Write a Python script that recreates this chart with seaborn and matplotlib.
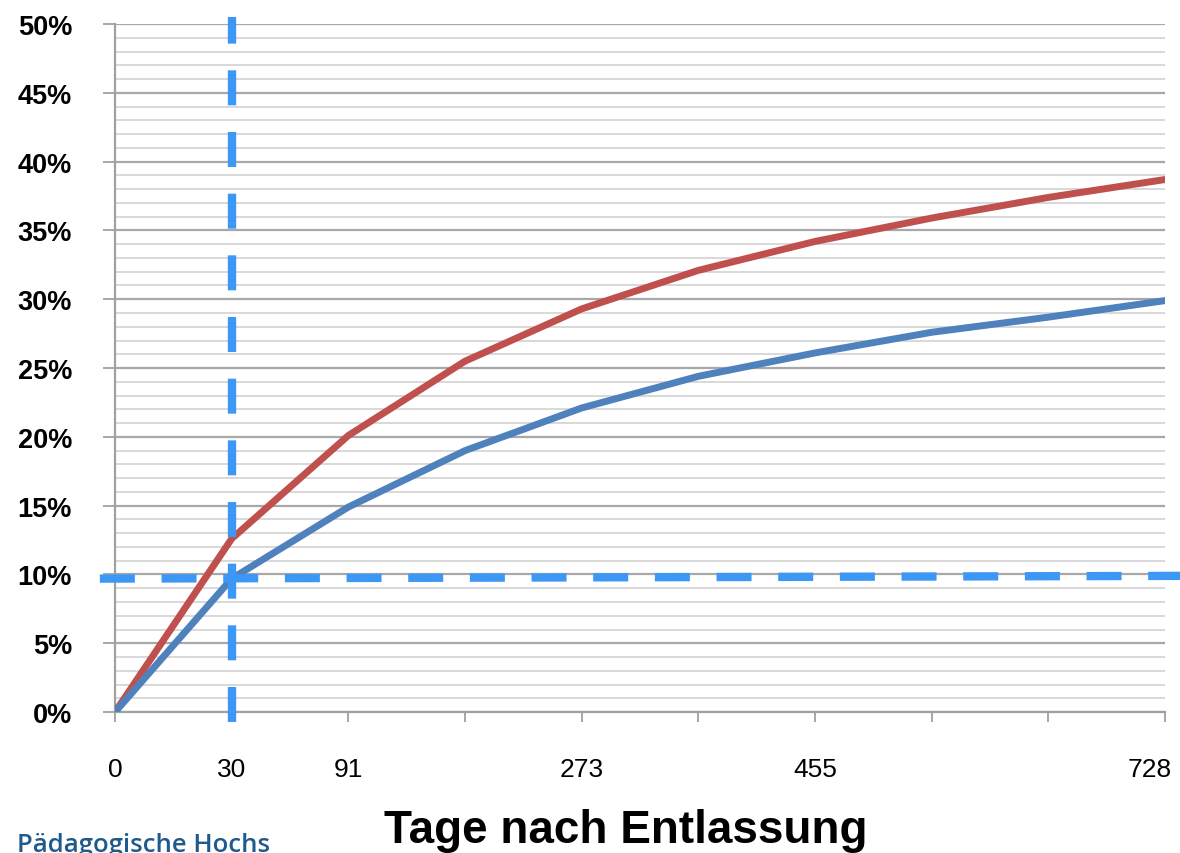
import numpy as np
import pandas as pd
import matplotlib
matplotlib.use('Agg')
import matplotlib.pyplot as plt
import matplotlib.transforms as mtransforms
import seaborn as sns

# Daten (Rückfallquote in % nach Tagen)
tage = ['0', '30', '91', '182', '273', '364', '455', '546', '637', '728']
tage_labels = ['0', '30', '91', '', '273', '', '455', '', '', '728']
rot = [0, 12.6, 20.1, 25.5, 29.3, 32.1, 34.2, 35.9, 37.4, 38.7]
blau = [0, 9.7, 14.9, 19.0, 22.1, 24.4, 26.1, 27.6, 28.7, 29.9]

# Hilfslinien
marker_tag = 30
marker_quote = [9.7, 9.9]

sns.set_style('white')
plt.rcParams['font.family'] = ['Liberation Sans', 'DejaVu Sans']
plt.rcParams['text.color'] = 'black'

df = pd.DataFrame({
    'pos': list(range(len(tage))) * 2,
    'wert': rot + blau,
    'gruppe': ['rot'] * len(tage) + ['blau'] * len(tage),
})

fig = plt.figure(figsize=(11.8, 8.54), dpi=100)
ax = fig.add_axes([0.0975, 0.165, 0.8898, 0.8057])

# Gitterlinien
for y in range(0, 51):
    if y % 5 == 0:
        ax.axhline(y, color='#a8a8a8', lw=1.6, zorder=0)
    else:
        ax.axhline(y, color='#d6d6d6', lw=1.3, zorder=0)

sns.lineplot(data=df, x='pos', y='wert', hue='gruppe',
             palette={'rot': '#c0504d', 'blau': '#4f81bd'},
             linewidth=5, legend=False, ax=ax, zorder=3)

# gestrichelte Markierungen
xi = tage.index(str(marker_tag))
ax.plot([xi, xi], [-0.7, 50.5], color='#3d97f5', lw=6, dashes=(4.2, 3.2),
        dash_capstyle='butt', clip_on=False, zorder=4)
ax.plot([-0.13, 9.2], marker_quote, color='#3d97f5', lw=6, dashes=(4.2, 3.2),
        dash_capstyle='butt', clip_on=False, zorder=4)

ax.set_xlim(0, len(tage) - 1)
ax.set_ylim(0, 50)
ax.set_xticks(range(len(tage)))
ax.set_xticklabels(tage_labels, fontsize=19, color='black')
ax.set_yticks(range(0, 51, 5))
ax.set_yticklabels([f'{v}%' for v in range(0, 51, 5)], fontsize=19.5,
                   fontweight='bold', color='black')
ax.tick_params(axis='x', length=7, width=1.3, color='#a0a0a0', pad=25,
               bottom=True)
ax.tick_params(axis='y', length=9, width=1.3, color='#a0a0a0', pad=22,
               left=True)
ax.set_xlabel('')
ax.set_ylabel('')

# letzte Beschriftung nach links schieben, damit sie nicht abgeschnitten wird
last = ax.get_xticklabels()[-1]
last.set_ha('right')
last.set_transform(last.get_transform() +
                   mtransforms.ScaledTranslation(7 / 100, 0, fig.dpi_scale_trans))

for s in ['top', 'right']:
    ax.spines[s].set_visible(False)
for s in ['left', 'bottom']:
    ax.spines[s].set_color('#a0a0a0')
    ax.spines[s].set_linewidth(1.6)

fig.text(0.53, 1 - 843 / 854, 'Tage nach Entlassung', fontsize=33,
         fontweight='bold', ha='center', va='baseline', color='black')
fig.text(17 / 1180, 2 / 854, 'Pädagogische Hochs', fontsize=18.5,
         fontweight='semibold', color='#1f5a8c', ha='left', va='baseline',
         family=['Open Sans', 'DejaVu Sans'])

fig.savefig('out.png', dpi=100)
